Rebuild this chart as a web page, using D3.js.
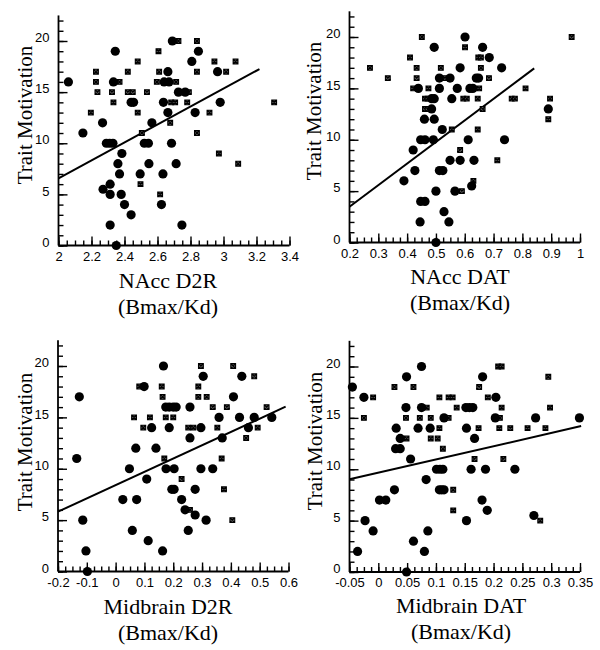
<!DOCTYPE html>
<html><head><meta charset="utf-8">
<script src="https://cdn.jsdelivr.net/npm/d3@7"></script>
<style>body{margin:0;background:#fff}svg{display:block}</style>
</head><body>
<svg id="chart" width="600" height="650"></svg>
<script>
// ---------- shared ----------
const yTitle = "Trait Motivation";
const unitsLabel = "(Bmax/Kd)";
const yMajorTicks = [0, 5, 10, 15, 20];

// ---------- NAcc D2R ----------
const nAccD2RName = "NAcc D2R";
const nAccD2RTicks = [2, 2.2, 2.4, 2.6, 2.8, 3, 3.2, 3.4];
const nAccD2RCircles = [[2.06,16],[2.344,19],[2.333,16],[2.44,14],[2.455,14],[2.267,12],[2.148,11],[2.566,12],[2.663,17],[2.64,16],[2.67,16],[2.69,20],[2.636,14],[2.663,13],[2.727,15],[2.768,15],[2.808,18],[2.848,19],[2.828,13],[2.964,17],[2.98,14],[2.29,10],[2.31,10],[2.33,10],[2.52,10],[2.545,10],[2.685,10],[2.384,9],[2.36,8],[2.548,8],[2.713,8],[2.37,7],[2.495,7],[2.633,7],[2.27,5.5],[2.313,6],[2.313,5],[2.38,5],[2.40,4],[2.624,4],[2.44,3],[2.313,2],[2.748,2],[2.35,0]];
const nAccD2RSquares = [[2.227,17],[2.227,16],[2.236,15],[2.196,13],[2.324,15],[2.333,14],[2.37,16],[2.42,17],[2.42,15],[2.45,15],[2.48,18],[2.48,13],[2.536,15],[2.606,19],[2.61,17],[2.596,16],[2.677,12],[2.683,14],[2.707,14],[2.713,16],[2.727,20],[2.79,15],[2.78,14],[2.839,20],[2.839,17],[2.915,13],[2.945,18],[3.016,17],[3.073,18],[3.307,14],[2.839,11],[2.505,11],[2.972,9],[3.089,8],[2.497,6],[2.616,5]];
const nAccD2RFit = [[2, 6.57], [3.218, 17.26]];

// ---------- NAcc DAT ----------
const nAccDATName = "NAcc DAT";
const nAccDATTicks = [0.2, 0.3, 0.4, 0.5, 0.6, 0.7, 0.8, 0.9, 1];
const nAccDATCircles = [[0.601,20],[0.494,19],[0.662,19],[0.685,18],[0.584,17],[0.728,17],[0.512,16],[0.549,16],[0.64,16],[0.648,16],[0.439,15],[0.512,15],[0.574,15],[0.618,15],[0.628,15],[0.485,14],[0.494,14],[0.555,14],[0.485,13],[0.46,12],[0.494,12],[0.522,11],[0.89,13],[0.447,10],[0.462,10],[0.491,10],[0.612,10],[0.738,10],[0.421,9],[0.427,7],[0.512,7],[0.524,7],[0.549,8],[0.584,8],[0.632,8],[0.389,6],[0.5,5],[0.566,5],[0.624,5.5],[0.447,4],[0.462,4],[0.528,3],[0.445,2],[0.545,2],[0.5,0]];
const nAccDATSquares = [[0.451,20],[0.601,19],[0.41,18],[0.647,18],[0.656,18],[0.271,17],[0.433,17],[0.517,17],[0.656,17],[0.333,16],[0.433,16],[0.531,16],[0.684,16],[0.421,15],[0.474,15],[0.65,15],[0.811,15],[0.462,14],[0.471,14],[0.595,14],[0.607,14],[0.645,14],[0.763,14],[0.774,14],[0.896,14],[0.462,13],[0.471,13],[0.662,13],[0.89,12],[0.555,11],[0.645,11],[0.584,9],[0.713,8],[0.59,5],[0.63,6],[0.971,20]];
const nAccDATFit = [[0.2, 3.48], [0.841, 16.95]];

// ---------- Midbrain D2R ----------
const midD2RName = "Midbrain D2R";
const midD2RTicks = [-0.2, -0.1, 0, 0.1, 0.2, 0.3, 0.4, 0.5, 0.6];
const midD2RCircles = [[-0.126,17],[-0.135,11],[0.166,20],[0.099,18],[0.304,19],[0.438,19],[0.409,17],[0.174,16],[0.186,16],[0.2,16],[0.21,16],[0.258,16],[0.359,15],[0.43,15],[0.481,15],[0.542,15],[0.125,14],[0.186,14],[0.296,14],[0.461,14],[0.258,13],[0.37,13],[0.07,12],[0.14,12],[0.048,10],[0.175,10],[0.203,10],[0.296,10],[0.337,10],[0.108,9],[0.195,8],[0.203,8],[0.276,8],[0.025,7],[0.073,7],[0.229,7],[0.241,6],[0.276,5.5],[0.314,5],[-0.114,5],[0.058,4],[0.252,4],[0.113,3],[-0.103,2],[0.163,2],[-0.098,0]];
const midD2RSquares = [[0.296,20],[0.408,20],[0.082,18],[0.16,18],[0.287,18],[0.481,19],[0.163,17],[0.287,17],[0.316,17],[0.337,16],[0.386,16],[0.524,16],[0.064,15],[0.119,15],[0.174,15],[0.2,15],[0.096,14],[0.252,14],[0.27,14],[0.353,14],[0.493,14],[0.453,13],[0.169,11],[0.368,11],[0.229,9],[0.376,8],[0.258,6],[0.405,5]];
const midD2RFit = [[-0.2, 5.82], [0.59, 16.04]];

// ---------- Midbrain DAT ----------
const midDATName = "Midbrain DAT";
const midDATTicks = [-0.05, 0, 0.05, 0.1, 0.15, 0.2, 0.25, 0.3, 0.35];
const midDATCircles = [[-0.045,18],[-0.025,17],[0.075,20],[0.049,19],[0.181,19],[0.204,17],[0.048,16],[0.075,16],[0.152,16],[0.158,16],[0.164,16],[0.114,15],[0.203,15],[0.273,15],[0.349,15],[0.031,14],[0.069,14],[0.09,14],[0.153,14],[0.038,13],[0.167,13],[0.03,12],[0.038,12],[0.056,11],[0.101,10],[0.107,10],[0.112,10],[0.161,10],[0.186,10],[0.237,10],[0.083,9],[0.106,8],[0.11,8],[0.114,8],[0.028,8],[0.002,7],[0.013,7],[0.18,7],[0.189,6],[0.27,5.5],[-0.023,5],[0.153,5],[-0.009,4],[0.086,4],[0.061,3],[-0.036,2],[0.08,2],[0.049,0]];
const midDATSquares = [[-0.009,17],[-0.025,15],[0.208,20],[0.214,20],[0.295,19],[0.028,18],[0.061,18],[0.175,18],[0.106,17],[0.122,17],[0.129,17],[0.19,17],[0.084,16],[0.136,16],[0.214,16],[0.298,16],[0.048,15],[0.072,15],[0.091,15],[0.122,15],[0.211,15],[0.106,14],[0.174,14],[0.21,14],[0.229,14],[0.259,14],[0.29,14],[0.049,13],[0.091,13],[0.103,13],[0.112,12],[0.167,11],[0.217,11],[0.13,8],[0.13,6],[0.281,5]];
const midDATFit = [[-0.05, 9.02], [0.352, 14.2]];

// ---------- layout (positions only) ----------
const panels = [
  {name:nAccD2RName, ticks:nAccD2RTicks, minorDiv:4, circles:nAccD2RCircles, squares:nAccD2RSquares, fit:nAccD2RFit,
   xr:[58.5,289.5], y0:245.5, y20:41, tx:168, tb:288, yx:32, yc:115},
  {name:nAccDATName, ticks:nAccDATTicks, minorDiv:4, circles:nAccDATCircles, squares:nAccDATSquares, fit:nAccDATFit,
   xr:[349.5,580], y0:242.5, y20:37, tx:460, tb:284, yx:321, yc:111},
  {name:midD2RName, ticks:midD2RTicks, minorDiv:4, circles:midD2RCircles, squares:midD2RSquares, fit:midD2RFit,
   xr:[58,288.5], y0:571.5, y20:366, tx:168, tb:614, yx:32, yc:442},
  {name:midDATName, ticks:midDATTicks, minorDiv:4, circles:midDATCircles, squares:midDATSquares, fit:midDATFit,
   xr:[349.5,580], y0:572, y20:366.5, tx:461, tb:613, yx:322, yc:441}
];

const svg = d3.select("#chart");
const fmt = d => String(+d.toFixed(4));
const yMax = 22.5;

panels.forEach(p => {
  const t = p.ticks;
  const x = d3.scaleLinear().domain([t[0], t[t.length-1]]).range(p.xr);
  const y = d3.scaleLinear().domain([0, 20]).range([p.y0, p.y20]);
  const g = svg.append("g");

  // minor ticks
  const step = (t[1]-t[0]) / p.minorDiv;
  const nMinor = Math.round((t[t.length-1]-t[0]) / step);
  const xMinor = d3.range(nMinor+1).map(i => t[0] + i*step);
  const yMinor = d3.range(0, 23);

  const xAxisMinor = d3.axisBottom(x).tickValues(xMinor).tickSize(-5).tickSizeOuter(0).tickFormat("");
  const xAxisMajor = d3.axisBottom(x).tickValues(t).tickSize(-9).tickSizeOuter(0).tickPadding(6).tickFormat(fmt);
  const yAxisMinor = d3.axisLeft(y).tickValues(yMinor).tickSize(-5).tickSizeOuter(0).tickFormat("");
  const yAxisMajor = d3.axisLeft(y).tickValues(yMajorTicks).tickSize(-9).tickSizeOuter(0).tickPadding(9).tickFormat(fmt);

  [xAxisMinor, xAxisMajor].forEach(a => {
    const ag = g.append("g").attr("transform", `translate(0,${p.y0})`).call(a);
    ag.select(".domain").remove();
    ag.selectAll("line").attr("stroke","#000").attr("stroke-width",1.4);
    ag.selectAll("text").attr("font-family","'Liberation Sans', Arial, sans-serif").attr("font-size",13).attr("fill","#000");
  });
  [yAxisMinor, yAxisMajor].forEach(a => {
    const ag = g.append("g").attr("transform", `translate(${p.xr[0]},0)`).call(a);
    ag.select(".domain").remove();
    ag.selectAll("line").attr("stroke","#000").attr("stroke-width",1.4);
    ag.selectAll("text").attr("font-family","'Liberation Sans', Arial, sans-serif").attr("font-size",13).attr("fill","#000").attr("dy","0.05em");
  });

  // axis lines
  g.append("line").attr("x1",p.xr[0]).attr("x2",p.xr[1]).attr("y1",p.y0).attr("y2",p.y0)
    .attr("stroke","#000").attr("stroke-width",1.8);
  g.append("line").attr("x1",p.xr[0]).attr("x2",p.xr[0]).attr("y1",p.y0).attr("y2",y(yMax))
    .attr("stroke","#000").attr("stroke-width",1.8);

  // fit line
  g.append("path").datum(p.fit)
    .attr("d", d3.line().x(d => x(d[0])).y(d => y(d[1])))
    .attr("stroke","#000").attr("stroke-width",2).attr("fill","none");

  // squares (cross-in-square markers)
  const s = 2.4;
  g.append("g").selectAll("path").data(p.squares).join("path")
    .attr("d", d => {
      const cx = x(d[0]), cy = y(d[1]);
      return `M${cx-s},${cy-s}H${cx+s}V${cy+s}H${cx-s}Z M${cx-s},${cy-s}L${cx+s},${cy+s} M${cx+s},${cy-s}L${cx-s},${cy+s}`;
    })
    .attr("fill","#555").attr("stroke","#000").attr("stroke-width",1.1);

  // circles
  g.append("g").selectAll("circle").data(p.circles).join("circle")
    .attr("cx", d => x(d[0])).attr("cy", d => y(d[1])).attr("r", 4.6).attr("fill","#000");

  // titles
  const serif = "'Liberation Serif', 'Times New Roman', serif";
  g.append("text").attr("x",p.tx).attr("y",p.tb).attr("text-anchor","middle")
    .attr("font-family",serif).attr("font-size",22).text(p.name);
  g.append("text").attr("x",p.tx).attr("y",p.tb+26).attr("text-anchor","middle")
    .attr("font-family",serif).attr("font-size",22).text(unitsLabel);
  g.append("text").attr("transform",`translate(${p.yx},${p.yc}) rotate(-90)`).attr("text-anchor","middle")
    .attr("font-family",serif).attr("font-size",21).text(yTitle);
});
</script>
</body></html>
